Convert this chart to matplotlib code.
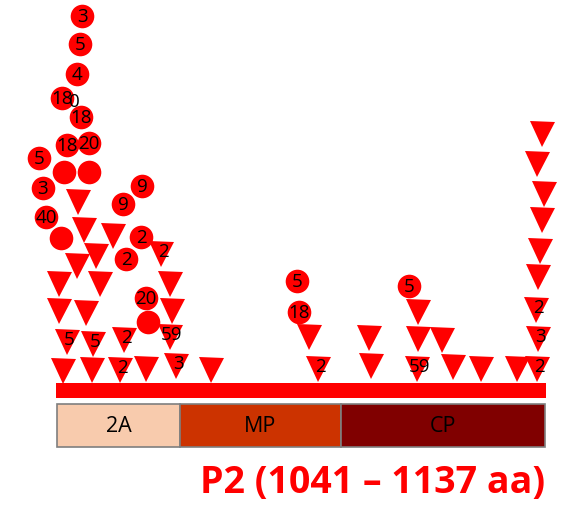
import matplotlib.pyplot as plt
from matplotlib.patches import Rectangle

plt.rcParams['font.family'] = ['Open Sans', 'DejaVu Sans']

RED = '#FF0000'

# mutation sites drawn as circles: x, height, count label
circ_x = [82, 80, 77, 62, 81, 67, 89, 64, 89, 39, 43, 46, 61,
          142, 123, 141, 126, 146, 148, 297, 299, 409]
circ_y = [16, 44, 74, 98, 117, 145, 143, 172, 172, 158, 188, 217, 238,
          186, 204, 237, 259, 298, 322, 281, 312, 286]
circ_lab = ['3', '5', '4', '18', '18', '18', '20', '', '', '5', '3', '40', '',
            '9', '9', '2', '2', '20', '', '5', '18', '5']

# mutation sites drawn as down triangles
tri_x = [78, 84, 113, 96, 77, 59, 100, 59, 86, 67, 93, 124,
         161, 170, 172, 170, 63, 92, 120, 146, 176, 211,
         309, 318, 369, 371, 418, 418, 417, 442, 453, 481, 517,
         542, 537, 544, 542, 540, 538, 536, 538, 537]
tri_y = [202, 230, 236, 256, 266, 284, 284, 311, 313, 342, 344, 340,
         254, 284, 311, 337, 371, 370, 370, 369, 366, 370,
         337, 369, 338, 366, 312, 339, 369, 340, 367, 369, 369,
         134, 164, 194, 220, 251, 277, 310, 339, 369]
tri_lab = ['', '', '', '', '', '', '', '', '', '5', '5', '2',
           '2', '', '', '59', '', '', '2', '', '3', '',
           '', '2', '', '', '', '', '59', '', '', '', '',
           '', '', '', '', '', '', '2', '3', '2']

# stray label fragment
extra_x = [74]
extra_y = [102]
extra_lab = ['0']

# protein track and domains
track = (56, 546)
domains = ['2A', 'MP', 'CP']
dom_start = [57, 180, 341]
dom_end = [180, 341, 545]
dom_colors = ['#F8CBAD', '#CC3300', '#800000']
title = 'P2 (1041 – 1137 aa)'

fig = plt.figure(figsize=(5.64, 5.05), dpi=100)
ax = fig.add_axes([0, 0, 1, 1])
ax.set_xlim(0, 564)
ax.set_ylim(505, 0)
ax.axis('off')

# red backbone
ax.add_patch(Rectangle((track[0], 383), track[1] - track[0], 15,
                       color=RED, lw=0, zorder=1))

# domain boxes
for name, s, e, c in zip(domains, dom_start, dom_end, dom_colors):
    ax.add_patch(Rectangle((s, 404), e - s, 43, facecolor=c,
                           edgecolor='#7F7F7F', lw=1.2, zorder=1))
    ax.text((s + e) / 2, 426, name, ha='center', va='center',
            fontsize=15.5, color='black', zorder=2)

# markers
for x, y in zip(tri_x, tri_y):
    ax.plot(x, y, marker='v', ms=18, color=RED, mec=RED, mew=0, ls='none', zorder=3)
for x, y in zip(circ_x, circ_y):
    ax.plot(x, y, marker='o', ms=17, color=RED, mec=RED, mew=0, ls='none', zorder=3)

# count labels
fs = 13.5
for x, y, t in zip(tri_x, tri_y, tri_lab):
    if t:
        ax.text(x + 2, y - 2, t, ha='center', va='center', fontsize=fs, zorder=5)
for x, y, t in zip(circ_x, circ_y, circ_lab):
    if t:
        ax.text(x, y + 1, t, ha='center', va='center', fontsize=fs, zorder=5)
for x, y, t in zip(extra_x, extra_y, extra_lab):
    ax.text(x, y, t, ha='center', va='center', fontsize=fs, zorder=5)

ax.text(545, 483, title, ha='right', va='center', fontsize=27,
        fontweight='bold', color=RED)

fig.savefig('out.png', dpi=100)
